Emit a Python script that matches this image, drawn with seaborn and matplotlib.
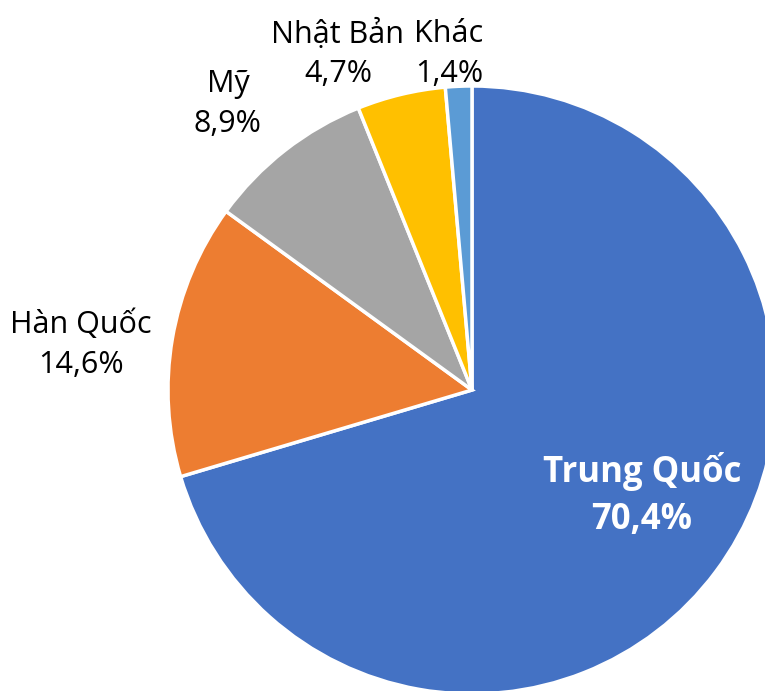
import matplotlib
matplotlib.use("Agg")
import matplotlib.pyplot as plt
import seaborn as sns

countries = ["Trung Quốc", "Hàn Quốc", "Mỹ", "Nhật Bản", "Khác"]
shares = [70.4, 14.6, 8.9, 4.7, 1.4]
colors = ["#4472C4", "#ED7D31", "#A5A5A5", "#FFC000", "#5B9BD5"]

# label anchor points, in units of the pie radius
label_pos = [(0.559, -0.345), (-1.286, 0.148), (-0.803, 0.941), (-0.441, 1.105), (-0.076, 1.105)]

sns.set_style("white")
plt.rcParams["font.family"] = ["Open Sans", "DejaVu Sans"]

fig = plt.figure(figsize=(7.65, 6.91), dpi=100)
W, H = 765, 691
cx, cy, r = 472, 390, 304
ax = fig.add_axes([(cx - r) / W, (H - cy - r) / H, 2 * r / W, 2 * r / H])

ax.pie(shares, colors=colors, startangle=90, counterclock=False, radius=1,
       wedgeprops=dict(edgecolor="white", linewidth=2.5))
ax.set_xlim(-1, 1)
ax.set_ylim(-1, 1)
ax.set_aspect("equal")
ax.axis("off")

for i, (name, val) in enumerate(zip(countries, shares)):
    txt = f"{name}\n{val:.1f}%".replace(".", ",")
    x, y = label_pos[i]
    if i == 0:
        ax.text(x, y, txt, ha="center", va="center", color="white",
                fontsize=25, fontweight="bold", linespacing=1.4, clip_on=False)
    else:
        ax.text(x, y, txt, ha="center", va="center", color="black",
                fontsize=22, linespacing=1.42, clip_on=False)

fig.savefig("out.png", dpi=100)
